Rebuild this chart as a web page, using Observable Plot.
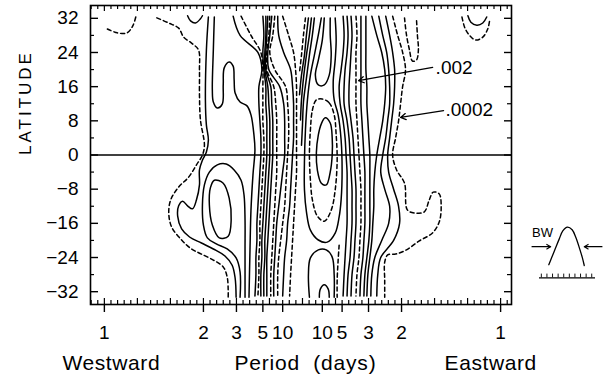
<!DOCTYPE html>
<html><head><meta charset="utf-8">
<script src="https://cdn.jsdelivr.net/npm/d3@7"></script>
<script src="https://cdn.jsdelivr.net/npm/@observablehq/plot@0.6"></script>
<style>
body{margin:0;background:#fff;}
#wrap{position:relative;width:609px;height:382px;background:#fff;}
#inset{position:absolute;left:525px;top:217px;}
</style></head>
<body><div id="wrap"><div id="main"></div><div id="inset"></div></div>
<script>
// ---------- axes ----------
const xDomain = [-1.07, 1.055];   // frequency (cpd), westward negative
const yDomain = [-35, 35];        // latitude
const periodFreqs = [-1, -0.5, -1/3, -0.2, -0.1, 0.1, 0.2, 1/3, 0.5, 1];
const periodLabels = ["1","2","3","5","10","10","5","3","2","1"];
const latTicks = [-32,-24,-16,-8,0,8,16,24,32];
const latMinor = [-28,-20,-12,-4,4,12,20,28];
const freqMinorK = d3.range(-32, 32);   // resolution ticks k/30 cpd

// ---------- contour rows (frequency at each latitude row) ----------
const lats = [32.5, 28, 24, 20, 16, 12, 8, 4, 0, -4, -8, -12, -16, -20, -24, -28, -33];
const westG  = [-0.35,-0.315,-0.225,-0.205,-0.22,-0.22,-0.215,-0.21,-0.21,-0.215,-0.22,-0.225,-0.23,-0.23,-0.235,-0.235,-0.24];
const westH  = [-0.31,-0.26,-0.21,-0.2,-0.20,-0.20,-0.20,-0.195,-0.195,-0.20,-0.205,-0.21,-0.215,-0.215,-0.22,-0.22,-0.225];
const westB1 = [-0.20,-0.195,-0.2,-0.195,-0.185,-0.185,-0.18,-0.18,-0.18,-0.185,-0.19,-0.195,-0.20,-0.205,-0.205,-0.21,-0.21];
const westB2 = [-0.185,-0.185,-0.19,-0.19,-0.175,-0.17,-0.165,-0.165,-0.165,-0.17,-0.175,-0.18,-0.185,-0.19,-0.19,-0.195,-0.195];
const westB3 = [-0.175,-0.18,-0.185,-0.185,-0.16,-0.155,-0.15,-0.15,-0.15,-0.155,-0.16,-0.165,-0.17,-0.175,-0.18,-0.18,-0.18];
const westB4 = [-0.165,-0.17,-0.18,-0.18,-0.145,-0.135,-0.13,-0.13,-0.13,-0.13,-0.135,-0.14,-0.145,-0.15,-0.155,-0.16,-0.16];
const westR1 = [-0.155,-0.165,-0.175,-0.17,-0.115,-0.095,-0.09,-0.09,-0.09,-0.10,-0.11,-0.12,-0.13,-0.135,-0.14,-0.145,-0.145];
const westR2 = [-0.14,-0.15,-0.165,-0.14,-0.085,-0.075,-0.07,-0.07,-0.075,-0.08,-0.085,-0.09,-0.10,-0.11,-0.12,-0.125,-0.125];
const westR3 = [-0.125,-0.12,-0.095,-0.06,-0.05,-0.045,-0.045,-0.045,-0.05,-0.055,-0.06,-0.065,-0.075,-0.08,-0.09,-0.095,-0.10];
const westR4 = [-0.10,-0.07,-0.045,-0.035,-0.03,-0.03,-0.03,-0.03,-0.03,-0.03,-0.035,-0.04,-0.045,-0.05,-0.055,-0.06,-0.065];
const eastE1 = [0.205,0.21,0.205,0.195,0.185,0.19,0.205,0.215,0.22,0.225,0.225,0.225,0.225,0.22,0.215,0.21,0.205];
const eastE2 = [0.225,0.23,0.225,0.215,0.21,0.21,0.225,0.235,0.24,0.245,0.25,0.25,0.25,0.245,0.24,0.23,0.225];
const eastE3 = [0.245,0.25,0.245,0.24,0.235,0.235,0.245,0.255,0.26,0.265,0.27,0.27,0.27,0.265,0.26,0.25,0.245];
const eastE4 = [0.27,0.275,0.27,0.27,0.27,0.27,0.275,0.28,0.285,0.29,0.295,0.295,0.295,0.29,0.285,0.275,0.27];
const eastE5 = [0.295,0.295,0.295,0.295,0.295,0.295,0.30,0.305,0.31,0.315,0.315,0.315,0.315,0.31,0.305,0.295,0.29];
const eastE6 = [0.32,0.32,0.32,0.32,0.325,0.325,0.33,0.335,0.34,0.34,0.34,0.34,0.34,0.335,0.325,0.315,0.31];
const eastE7 = [0.35,0.375,0.40,0.415,0.42,0.415,0.405,0.39,0.375,0.365,0.36,0.36,0.355,0.35,0.34,0.33,0.325];
const eastE8 = [0.385,0.405,0.425,0.435,0.44,0.44,0.43,0.42,0.405,0.395,0.415,0.44,0.435,0.40,0.365,0.35,0.345];
const eastE9 = [0.42,0.44,0.455,0.465,0.465,0.46,0.45,0.44,0.43,0.435,0.46,0.485,0.49,0.46,0.395,0.38,0.375];

// ---------- contour paths ([frequency, latitude]) ----------
const westHook = [[-0.985,29.5],[-0.935,28.6],[-0.885,28.6],[-0.855,30.4],[-0.84,32.6]];
const westArc = [[-0.58,32.6],[-0.565,31.4],[-0.54,30.9],[-0.515,31.9],[-0.505,32.6]];
const westOuter = [[-0.735,32.1],[-0.675,30.9],[-0.625,29.7],[-0.60,27.6],[-0.56,26.2],[-0.525,24.6],[-0.52,19.9],[-0.52,14.1],[-0.515,8.2],[-0.495,2.3],[-0.505,0],[-0.535,-2.3],[-0.575,-5.2],[-0.625,-7.5],[-0.665,-10.5],[-0.675,-13.6],[-0.66,-16.9],[-0.61,-19.9],[-0.56,-22.0],[-0.51,-23.2],[-0.45,-24.6],[-0.40,-26.2],[-0.38,-28.6],[-0.375,-31.6],[-0.375,-33.3]];
const westC = [[-0.475,32.3],[-0.485,24.6],[-0.49,12.9],[-0.485,7.0],[-0.475,3.5],[-0.485,0.7],[-0.505,-1.2],[-0.52,-3.5],[-0.52,-7.0],[-0.535,-10.5],[-0.555,-12.6],[-0.58,-11.9],[-0.605,-10.8],[-0.625,-11.9],[-0.63,-14.3],[-0.61,-17.3],[-0.57,-19.2],[-0.51,-20.6],[-0.45,-22.0],[-0.39,-23.7],[-0.355,-25.8],[-0.34,-28.8],[-0.335,-33.3]];
const westF = [[-0.445,32.3],[-0.45,24.6],[-0.455,15.2],[-0.45,12.4],[-0.43,11.0],[-0.405,11.9],[-0.40,16.4],[-0.395,20.4],[-0.37,21.8],[-0.35,20.8],[-0.345,17.6],[-0.34,14.5],[-0.315,12.4],[-0.28,11.5],[-0.26,9.4],[-0.245,4.7],[-0.24,1.2],[-0.25,-4.7],[-0.26,-12.9],[-0.265,-22.2],[-0.27,-33.3]];
const westD = [[-0.315,-33.3],[-0.315,-27.4],[-0.335,-24.1],[-0.38,-22.0],[-0.435,-20.8],[-0.48,-19.4],[-0.50,-16.4],[-0.505,-11.7],[-0.495,-7.0],[-0.47,-4.0],[-0.43,-2.3],[-0.385,-2.1],[-0.345,-3.5],[-0.31,-5.9],[-0.295,-9.4],[-0.29,-15.2],[-0.29,-22.2],[-0.29,-33.3]];
const westOval = [[-0.445,-5.9],[-0.40,-6.6],[-0.37,-10.1],[-0.36,-15.2],[-0.375,-19.0],[-0.42,-19.4],[-0.455,-16.4],[-0.47,-11.7],[-0.465,-7.7]];
const eastU = [[0.095,32.1],[0.08,28.1],[0.06,23.4],[0.04,18.7],[0.025,12.9],[0.015,5.9],[0.01,-1.2],[0.01,-8.2],[0.02,-13.3],[0.04,-17.6],[0.08,-19.9],[0.125,-20.4],[0.165,-18.3],[0.185,-14.5],[0.195,-10.5],[0.20,-3.5],[0.195,3.5],[0.18,9.4],[0.16,12.9],[0.155,17.1],[0.165,22.2],[0.17,26.9],[0.165,32.1]];
const eastCap = [[0.11,32.1],[0.10,26.9],[0.08,22.2],[0.065,18.7],[0.08,16.4],[0.11,16.4],[0.135,18.7],[0.145,23.4],[0.14,28.1],[0.14,32.1]];
const eastRing = [[0.10,13.1],[0.135,12.2],[0.16,9.4],[0.17,4.7],[0.175,-1.2],[0.165,-8.2],[0.145,-12.9],[0.11,-15.5],[0.075,-14.3],[0.05,-10.5],[0.04,-5.9],[0.035,0],[0.04,5.9],[0.05,10.5],[0.07,12.9]];
const eastOval = [[0.115,8.7],[0.14,7.5],[0.15,4.0],[0.15,0],[0.14,-4.0],[0.12,-7.0],[0.095,-6.6],[0.075,-3.5],[0.07,0.5],[0.08,4.7],[0.095,7.3]];
const fanA = [[0.015,32.1],[0.005,28.1],[-0.005,23.4],[-0.015,19.4]];
const fanB = [[0.03,32.1],[0.02,28.1],[0.01,23.4],[-0.005,18.7],[-0.015,14.1]];
const fanC = [[0.045,32.1],[0.035,28.1],[0.02,23.4],[0.005,18.0],[-0.005,12.9],[-0.01,8.2]];
const fanD = [[0.06,32.1],[0.05,28.1],[0.035,23.4],[0.02,18.0],[0.005,12.4],[0,7.0],[-0.005,2.3]];
const archOuter = [[0.035,-33.3],[0.03,-28.1],[0.04,-24.1],[0.08,-22.2],[0.12,-22.2],[0.15,-23.9],[0.16,-28.1],[0.16,-33.3]];
const archInner = [[0.085,-33.3],[0.09,-31.4],[0.11,-30.4],[0.13,-31.4],[0.135,-33.3]];
const eastDashLow = [[0.185,-21.1],[0.18,-24.6],[0.175,-29.3],[0.175,-33.3]];
const eastOuter = [[0.455,32.5],[0.48,28.1],[0.505,24.1],[0.52,19.9],[0.505,15.9],[0.495,11.9],[0.485,8.0],[0.47,4.0],[0.455,0],[0.475,-3.5],[0.515,-6.6],[0.53,-12.9],[0.575,-13.6],[0.615,-13.3],[0.64,-10.5],[0.66,-8.7],[0.69,-9.1],[0.70,-12.2],[0.69,-15.7],[0.655,-18.3],[0.59,-20.1],[0.525,-22.2],[0.47,-23.2],[0.43,-23.4],[0.415,-25.1],[0.415,-29.3],[0.415,-33.3]];
const eastTongue = [[0.515,32.1],[0.525,28.1],[0.54,24.6],[0.555,22.0],[0.575,22.2],[0.585,24.6],[0.58,28.1],[0.575,32.1]];
const cornerSolid = [[0.835,32.6],[0.85,31.1],[0.88,30.4],[0.91,30.9],[0.93,32.3]];
const cornerDashed = [[0.805,32.3],[0.82,29.7],[0.845,27.9],[0.875,26.9],[0.91,27.6],[0.935,29.5],[0.945,31.6]];

// ---------- annotations ----------
const levelLabels = [".002", ".0002"];
const levelLabelPos = [[0.672, 20.5], [0.722, 10.5]];
const arrowTail = [[0.657, 20.5], [0.712, 10.4]];
const arrowHead = [[0.283, 17.4], [0.495, 8.8]];

// ---------- inset (bandwidth sketch) ----------
const bwU = [-0.95,-0.8,-0.6,-0.4,-0.2,0.05,0.3,0.5,0.7,0.85,0.95];
const bwA = [0.02,0.2,0.44,0.68,0.9,1.0,0.93,0.73,0.44,0.2,0];
const bwArrowFrom = [-1.85, 1.9];
const bwArrowTo = [-0.85, 0.95];
const bwArrowLevel = 0.49;
const bwBase = -0.32;
const bwBaseSpan = [-1.45, 1.55];
const bwTicks = [-1.35,-1.05,-0.75,-0.45,-0.15,0.15,0.45,0.75,1.05,1.35];

// ---------- build ----------
const rowLine = (id, fs) => fs.map((f, i) => ({id, f, lat: lats[i]}));
const pathLine = (id, pts) => pts.map(([f, lat]) => ({id, f, lat}));
const solidOpen = [
  ...rowLine("G", westG), ...rowLine("B1", westB1), ...rowLine("B2", westB2), ...rowLine("B3", westB3),
  ...rowLine("R1", westR1), ...rowLine("R3", westR3),
  ...rowLine("E1", eastE1), ...rowLine("E2", eastE2), ...rowLine("E3", eastE3), ...rowLine("E5", eastE5),
  ...rowLine("E6", eastE6), ...rowLine("E7", eastE7), ...rowLine("E8", eastE8), ...rowLine("E9", eastE9),
  ...pathLine("arc", westArc), ...pathLine("C", westC), ...pathLine("F", westF), ...pathLine("D", westD),
  ...pathLine("U", eastU), ...pathLine("cap", eastCap), ...pathLine("fanB", fanB), ...pathLine("fanC", fanC),
  ...pathLine("fanD", fanD), ...pathLine("archO", archOuter), ...pathLine("archI", archInner),
  ...pathLine("corner", cornerSolid)
];
const dashedOpen = [
  ...rowLine("H", westH), ...rowLine("B4", westB4), ...rowLine("R2", westR2), ...rowLine("R4", westR4),
  ...rowLine("E4", eastE4),
  ...pathLine("hook", westHook), ...pathLine("outerW", westOuter), ...pathLine("fanA", fanA),
  ...pathLine("dlow", eastDashLow), ...pathLine("outerE", eastOuter), ...pathLine("tongue", eastTongue),
  ...pathLine("cornerD", cornerDashed)
];
const solidClosed = [...pathLine("ovalW", westOval), ...pathLine("ovalE", eastOval)];
const dashedClosed = [...pathLine("ring", eastRing)];

const labelMap = new Map(periodFreqs.map((f, i) => [f, periodLabels[i]]));
const freqMinor = freqMinorK.map(k => ({f: k / 30, major: k % 5 === 0}));
const annot = levelLabels.map((t, i) => ({
  t, lx: levelLabelPos[i][0], ly: levelLabelPos[i][1],
  x1: arrowTail[i][0], y1: arrowTail[i][1], x2: arrowHead[i][0], y2: arrowHead[i][1]
}));
const lineStyle = {x: "f", y: "lat", z: "id", stroke: "black", strokeWidth: 1.5};
const font = "'Liberation Sans', Arial, Helvetica, sans-serif";

// tick lengths expressed in scale units (x: ~198 px/cpd, y: ~4.27 px/deg)
const pxX = (xDomain[1] - xDomain[0]) / 421;
const pxY = (yDomain[1] - yDomain[0]) / 299;
const tk = {stroke: "black", strokeWidth: 1.2};

const main = Plot.plot({
  width: 609, height: 382,
  marginLeft: 90, marginRight: 98, marginTop: 5, marginBottom: 78,
  style: {fontFamily: font, fontSize: "19px", background: "white", color: "black"},
  x: {domain: xDomain, axis: null},
  y: {domain: yDomain, axis: null},
  marks: [
    Plot.line(solidOpen, {...lineStyle, curve: "catmull-rom"}),
    Plot.line(dashedOpen, {...lineStyle, curve: "catmull-rom", strokeDasharray: "4,3"}),
    Plot.line(solidClosed, {...lineStyle, curve: "catmull-rom-closed"}),
    Plot.line(dashedClosed, {...lineStyle, curve: "catmull-rom-closed", strokeDasharray: "4,3"}),
    Plot.ruleY([0], {stroke: "black", strokeWidth: 1.6}),
    // inner ticks
    Plot.ruleY(latTicks, {y: d => d, x1: xDomain[0], x2: xDomain[0] + 8 * pxX, ...tk, strokeWidth: 1.4}),
    Plot.ruleY(latMinor, {y: d => d, x1: xDomain[0], x2: xDomain[0] + 4 * pxX, ...tk}),
    Plot.ruleY(latTicks, {y: d => d, x1: xDomain[1], x2: xDomain[1] - 7 * pxX, ...tk, strokeWidth: 1.4}),
    Plot.ruleY(latMinor, {y: d => d, x1: xDomain[1], x2: xDomain[1] - 4 * pxX, ...tk}),
    Plot.ruleX(freqMinor, {x: "f", y1: yDomain[1], y2: d => yDomain[1] - (d.major ? 6 : 4) * pxY, ...tk}),
    Plot.ruleX(freqMinor, {x: "f", y1: yDomain[0], y2: d => yDomain[0] + (d.major ? 6 : 4) * pxY, ...tk}),
    Plot.frame({stroke: "black", strokeWidth: 1.6}),
    // axes
    Plot.axisX(periodFreqs, {anchor: "bottom", tickSize: 8, tickPadding: 13, tickFormat: d => labelMap.get(d), fontSize: 19, label: null, strokeWidth: 1.4}),
    Plot.axisY(latTicks, {anchor: "left", tickSize: 0, tickPadding: 12, fontSize: 19, label: null}),
    // level annotations
    Plot.arrow(annot, {x1: "x1", y1: "y1", x2: "x2", y2: "y2", stroke: "black", strokeWidth: 1.3, headLength: 7}),
    Plot.text(annot, {x: "lx", y: "ly", text: "t", textAnchor: "start", fontSize: 19, fill: "black"}),
    // titles
    Plot.text(["LATITUDE"], {frameAnchor: "left", dx: -65, rotate: -90, fontSize: 17, fill: "black"}),
    Plot.text(["Westward"], {x: -0.965, frameAnchor: "bottom", dy: 65, fontSize: 21, fill: "black"}),
    Plot.text(["Period\u00a0\u00a0(days)"], {x: 0.015, frameAnchor: "bottom", dy: 65, fontSize: 21, fill: "black"}),
    Plot.text(["Eastward"], {x: 0.95, frameAnchor: "bottom", dy: 65, fontSize: 21, fill: "black"})
  ]
});
document.getElementById("main").append(main);
d3.select(main).selectAll("text").each(function() {
  const t = this.textContent;
  if (t === "LATITUDE") d3.select(this).attr("letter-spacing", "3");
  if (t === "Westward" || t === "Eastward") d3.select(this).attr("letter-spacing", "0.6");
  if (t.startsWith("Period")) d3.select(this).attr("letter-spacing", "0.8");
});

const bwCurve = bwU.map((u, i) => ({u, a: bwA[i]}));
const bwArrows = bwArrowFrom.map((u, i) => ({u1: u, u2: bwArrowTo[i]}));
const insetTickLen = 1.7 / 70 * 4;   // ~4px in amplitude units
const inset = Plot.plot({
  width: 90, height: 70, margin: 0,
  style: {fontFamily: font, background: "transparent", color: "black", overflow: "visible"},
  x: {domain: [-2.2, 2.3], axis: null},
  y: {domain: [-0.45, 1.25], axis: null},
  marks: [
    Plot.line(bwCurve, {x: "u", y: "a", curve: "catmull-rom", stroke: "black", strokeWidth: 1.4}),
    Plot.arrow(bwArrows, {x1: "u1", x2: "u2", y1: bwArrowLevel, y2: bwArrowLevel, stroke: "black", strokeWidth: 1.2, headLength: 6}),
    Plot.text(["BW"], {x: -1.29, y: 0.86, fontSize: 14, fill: "black"}),
    Plot.ruleY([bwBase], {x1: bwBaseSpan[0], x2: bwBaseSpan[1], stroke: "black", strokeWidth: 1.3}),
    Plot.ruleX(bwTicks, {x: d => d, y1: bwBase, y2: bwBase + insetTickLen, stroke: "black", strokeWidth: 1})
  ]
});
document.getElementById("inset").append(inset);
</script></body></html>
